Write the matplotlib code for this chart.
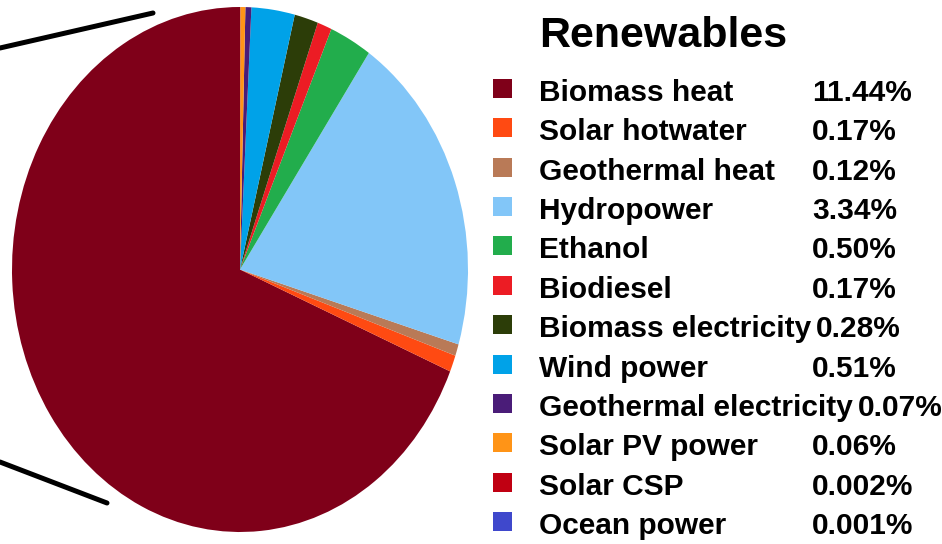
import matplotlib
matplotlib.use("Agg")
import matplotlib.pyplot as plt
from matplotlib.patches import Rectangle
from matplotlib.lines import Line2D

# ---- data ----
title = "Renewables"
categories = ["Biomass heat", "Solar hotwater", "Geothermal heat", "Hydropower",
              "Ethanol", "Biodiesel", "Biomass electricity", "Wind power",
              "Geothermal electricity", "Solar PV power", "Solar CSP", "Ocean power"]
values = [11.44, 0.17, 0.12, 3.34, 0.50, 0.17, 0.28, 0.51, 0.07, 0.06, 0.002, 0.001]
value_labels = ["11.44%", "0.17%", "0.12%", "3.34%", "0.50%", "0.17%", "0.28%",
                "0.51%", "0.07%", "0.06%", "0.002%", "0.001%"]
colors = ["#7f0019", "#ff4a12", "#b97a57", "#82c6f8", "#22ad4c", "#ec1c24",
          "#2c3d08", "#00a2e8", "#4a1c78", "#ff9417", "#c00012", "#3f48cc"]

W, H = 942, 544
fig = plt.figure(figsize=(W / 100, H / 100), dpi=100)
fig.patch.set_facecolor("white")

def fx(x):
    return x / W

def fy(y):
    return 1 - y / H

# pie axes (ellipse: 456 x 525 px box)
pl, pr, pt, pb = 12, 468, 7, 532
ax = fig.add_axes([fx(pl), fy(pb), (pr - pl) / W, (pb - pt) / H])
ax.pie(values, colors=colors, startangle=90, counterclock=True,
       wedgeprops=dict(linewidth=0))
ax.set_aspect("auto")
ax.set_xlim(-1, 1)
ax.set_ylim(-1, 1)
ax.axis("off")

# connector lines from the parent chart
for (x0, y0, x1, y1) in [(0, 48, 153, 13), (0, 462, 107, 503)]:
    fig.add_artist(Line2D([fx(x0), fx(x1)], [fy(y0), fy(y1)], color="black",
                          linewidth=3.6, solid_capstyle="round",
                          transform=fig.transFigure))

font = "Liberation Sans"
fig.text(fx(539), fy(47), title, fontsize=31, fontweight="bold",
         family=font, ha="left", va="baseline")

row0, step = 88.3, 39.4
sq = 19
fs = 21.5
label_texts = []
for i, (cat, col) in enumerate(zip(categories, colors)):
    yc = row0 + i * step
    fig.add_artist(Rectangle((fx(502 - sq / 2), fy(yc + sq / 2)), sq / W, sq / H,
                             facecolor=col, edgecolor="none",
                             transform=fig.transFigure))
    t = fig.text(fx(539), fy(yc + 12.5), cat, fontsize=fs, fontweight="bold",
                 family=font, ha="left", va="baseline")
    label_texts.append(t)

fig.canvas.draw()
renderer = fig.canvas.get_renderer()
for i, (t, vl) in enumerate(zip(label_texts, value_labels)):
    yc = row0 + i * step
    right = t.get_window_extent(renderer).x1
    xv = max(812, right + 5)
    fig.text(fx(xv), fy(yc + 12.5), vl, fontsize=fs, fontweight="bold",
             family=font, ha="left", va="baseline")

fig.savefig("out.png", dpi=100)
